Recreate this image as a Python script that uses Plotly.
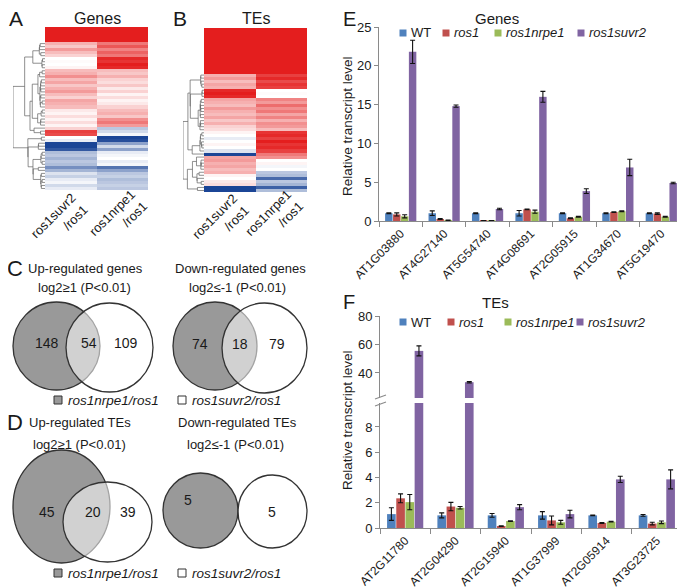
import numpy as np
import plotly.graph_objects as go

W, H = 685, 588
OFF = 8  # default body margin of the page holding the figure
FONT = "Arial, Liberation Sans, sans-serif"

# ---------------- data ----------------
GENOTYPES = ["WT", "ros1", "ros1nrpe1", "ros1suvr2"]
BAR_COLORS = ["#4F81BD", "#C0504D", "#9BBB59", "#8064A2"]

GENE_LOCI = ["AT1G03880", "AT4G27140", "AT5G54740", "AT4G08691", "AT2G05915", "AT1G34670", "AT5G19470"]
GENE_WT = [1.0, 1.0, 1.0, 1.0, 1.0, 1.0, 1.0]
GENE_WT_ERR = [0.05, 0.3, 0.05, 0.35, 0.05, 0.05, 0.05]
GENE_ROS1 = [0.85, 0.25, 0.05, 1.5, 0.35, 1.15, 0.95]
GENE_ROS1_ERR = [0.2, 0.05, 0.02, 0.05, 0.05, 0.05, 0.1]
GENE_NRPE1 = [0.6, 0.1, 0.05, 1.2, 0.55, 1.25, 0.55]
GENE_NRPE1_ERR = [0.2, 0.02, 0.02, 0.2, 0.05, 0.05, 0.05]
GENE_SUVR2 = [21.8, 14.8, 1.55, 16.0, 3.85, 6.9, 4.9]
GENE_SUVR2_ERR = [1.5, 0.15, 0.1, 0.7, 0.3, 1.05, 0.1]

TE_LOCI = ["AT2G11780", "AT2G04290", "AT2G15940", "AT1G37999", "AT2G05914", "AT3G23725"]
TE_WT = [1.1, 1.0, 1.0, 1.0, 1.0, 1.0]
TE_WT_ERR = [0.5, 0.2, 0.15, 0.3, 0.03, 0.07]
TE_ROS1 = [2.35, 1.7, 0.15, 0.6, 0.4, 0.35]
TE_ROS1_ERR = [0.35, 0.33, 0.03, 0.35, 0.03, 0.1]
TE_NRPE1 = [2.05, 1.6, 0.55, 0.45, 0.5, 0.45]
TE_NRPE1_ERR = [0.6, 0.1, 0.03, 0.15, 0.03, 0.1]
TE_SUVR2 = [55.5, 33.5, 1.65, 1.1, 3.85, 3.85]
TE_SUVR2_ERR = [3.5, 0.5, 0.2, 0.3, 0.25, 0.75]

HEAT_COLUMNS = ["ros1suvr2<br>/ros1", "ros1nrpe1<br>/ros1"]
# log2 ratio (scaled -1..1), rows top to bottom
HEAT_GENES_SUVR2 = [1.0, 1.0, 1.0, 1.0, 1.0,
                    0.35, 0.25, 0.45, 0.3, 0.2,
                    0.0, 0.02, 0.0, 0.05,
                    0.3, 0.35, 0.5, 0.3,
                    0.4, 0.25, 0.35, 0.45, 0.3, 0.2, 0.4, 0.35, 0.3,
                    0.1, 0.05, 0.15,
                    0.05, 0.15, 0.05, 0.2,
                    0.85, 0.8, 0.0, -0.1, -1.0, -1.0, -0.9,
                    -0.35, -0.3, -0.4, -0.3, -0.35,
                    -0.6, -0.4,
                    -0.15, -0.25, -0.1, -0.05, -0.2, -0.1]
HEAT_GENES_NRPE1 = [1.0, 1.0, 1.0, 1.0, 1.0,
                    0.6, 0.75, 0.55, 0.7, 0.6,
                    0.95, 0.9, 1.0, 0.95,
                    0.3, 0.25, 0.35, 0.2,
                    0.15, 0.25, 0.1, 0.2, 0.05, 0.15, 0.05, 0.1, 0.2,
                    0.3, 0.35, 0.25,
                    0.5, 0.6, 0.45, -0.3,
                    -0.2, -0.05, -1.0, -0.95, -0.5, -0.2, -0.5,
                    -0.1, -0.05, 0.0, -0.1, -0.05,
                    -0.75, -0.5,
                    -0.3, -0.25, -0.35, -0.3, -0.25, -0.3]
HEAT_TES_SUVR2 = [1.0] * 15 + [0.35, 0.45, 0.3, 0.4, 0.35,
                               0.95, 1.0, 0.95,
                               0.4, 0.35, 0.3, 0.45, 0.35, 0.3, 0.4, 0.25, 0.35, 0.2, 0.15,
                               0.05, 0.0, -0.1, 0.0, 0.05, 0.0, -0.15,
                               -1.0, 0.4,
                               0.45, 0.35, 0.4, 0.3, 0.35,
                               0.05, 0.0, 0.1, 0.15,
                               -1.0, -1.0]
HEAT_TES_NRPE1 = [1.0] * 15 + [0.85, 0.95, 0.8, 0.9, 0.85,
                               0.0, 0.02, 0.0,
                               0.55, 0.45, 0.65, 0.5, 0.6, 0.4, 0.55, 0.35, 0.5, 0.45, 0.3,
                               0.9, 0.95, 0.85, 1.0, 0.9, 0.95, 0.85,
                               0.6, 0.5,
                               0.0, 0.05, -0.05, 0.0, -0.3,
                               -0.35, -0.8, -0.3, -0.4,
                               -0.85, -0.35]
DENDRO_START_GENES = 5
DENDRO_START_TES = 15

VENN_UP_GENES = [148, 54, 109]
VENN_DOWN_GENES = [74, 18, 79]
VENN_UP_TES = [45, 20, 39]
VENN_DOWN_TES = [5, 5]
VENN_LEGEND = ["ros1nrpe1/ros1", "ros1suvr2/ros1"]


# ---------------- helpers (screen pixel -> paper fraction) ----------------
def px(x):
    return (x - OFF) / W


def py(y):
    return 1 - (y - OFF) / H


def dendrogram_segments(rows, start):
    """Order-preserving (adjacent) Ward agglomeration; returns line coords."""
    cl = [dict(n=1, m=np.array(v, float), y=float(start + i), h=0.0) for i, v in enumerate(rows)]
    xs, ys = [], []
    while len(cl) > 1:
        best = None
        for k in range(len(cl) - 1):
            a, b = cl[k], cl[k + 1]
            d = np.sqrt(2 * a["n"] * b["n"] / (a["n"] + b["n"])) * np.linalg.norm(a["m"] - b["m"])
            if best is None or d < best[0]:
                best = (d, k)
        d, k = best
        a, b = cl[k], cl[k + 1]
        h = max(d ** 0.6, a["h"], b["h"]) + 0.02
        xs += [a["h"], h, h, b["h"], None]
        ys += [a["y"], a["y"], b["y"], b["y"], None]
        n = a["n"] + b["n"]
        cl[k:k + 2] = [dict(n=n, m=(a["n"] * a["m"] + b["n"] * b["m"]) / n, y=(a["y"] + b["y"]) / 2, h=h)]
    return xs, ys, cl[0]["h"]


fig = go.Figure()
annotations = []
shapes = []


def ann(x, y, text, size=13, **kw):
    d = dict(x=px(x), y=py(y), xref="paper", yref="paper", text=text, showarrow=False,
             font=dict(family=FONT, size=size, color=kw.pop("color", "#1a1a1a")),
             xanchor=kw.pop("xanchor", "center"), yanchor=kw.pop("yanchor", "middle"))
    d.update(kw)
    annotations.append(d)


HEAT_SCALE = [[0.0, "#1B4596"], [0.5, "#FFFFFF"], [1.0, "#E41E1E"]]

# ---------------- heatmaps + dendrograms ----------------
heat_specs = [
    ("x", "y", "x2", "y2", HEAT_GENES_SUVR2, HEAT_GENES_NRPE1, DENDRO_START_GENES, (45, 148), (13, 45), (27, 190)),
    ("x3", "y3", "x4", "y4", HEAT_TES_SUVR2, HEAT_TES_NRPE1, DENDRO_START_TES, (204, 307), (183, 204), (28, 192)),
]
layout_axes = {}
for i, (hx, hy, dx, dy, c1, c2, start, hxr, dxr, yr) in enumerate(heat_specs):
    n = len(c1)
    z = [[a, b] for a, b in zip(c1, c2)]
    fig.add_trace(go.Heatmap(z=z, x=[0, 1], y=list(range(n)), zmin=-1, zmax=1, colorscale=HEAT_SCALE,
                             showscale=False, xaxis=hx, yaxis=hy, hoverinfo="skip"))
    rows = z[start:]
    xs, ys, hmax = dendrogram_segments(rows, start)
    fig.add_trace(go.Scatter(x=xs, y=ys, mode="lines", line=dict(color="#606060", width=0.7),
                             xaxis=dx, yaxis=dy, showlegend=False, hoverinfo="skip"))
    ydom = [py(yr[1]), py(yr[0])]
    yrange = [n - 0.5, -0.5]
    hxn = "xaxis" + hx[1:]
    hyn = "yaxis" + hy[1:]
    dxn = "xaxis" + dx[1:]
    dyn = "yaxis" + dy[1:]
    layout_axes[hxn] = dict(domain=[px(hxr[0]), px(hxr[1])], range=[-0.5, 1.5], visible=False, anchor=hy, automargin=False)
    layout_axes[hyn] = dict(domain=ydom, range=yrange, visible=False, anchor=hx, automargin=False)
    layout_axes[dxn] = dict(domain=[px(dxr[0]), px(dxr[1])], range=[hmax, 0], visible=False, anchor=dy, automargin=False)
    layout_axes[dyn] = dict(domain=ydom, range=yrange, visible=False, anchor=dx, automargin=False)

# titles and column labels of heatmaps
ann(16, 19, "A", size=21)
ann(97, 18, "Genes", size=16)
ann(180, 19, "B", size=21)
ann(256, 18, "TEs", size=16)
for (cx, cy), lab in zip([(59, 222), (118, 219)], HEAT_COLUMNS):
    ann(cx, cy, lab, size=13, textangle=-45, align="right")
for (cx, cy), lab in zip([(221, 222), (274, 219)], HEAT_COLUMNS):
    ann(cx, cy, lab, size=13, textangle=-45, align="right")

# ---------------- Venn diagrams ----------------
GRAY = "#999999"
EDGE = "#333333"


def ellipse(box, fill):
    x0, y0, x1, y1 = box
    shapes.append(dict(type="circle", xref="paper", yref="paper", x0=px(x0), x1=px(x1),
                       y0=py(y1), y1=py(y0), fillcolor=fill, line=dict(color=EDGE, width=1.3),
                       layer="above"))


venns = [
    ((13, 302, 100, 390), (66, 303, 153, 392), VENN_UP_GENES, [(47, 343), (89, 343), (126, 343)]),
    ((173, 302, 257, 390), (222, 303, 307, 393), VENN_DOWN_GENES, [(200, 344), (240, 344), (277, 344)]),
    ((13, 450, 110, 563), (63, 482, 152, 562), VENN_UP_TES, [(47, 512), (93, 512), (128, 512)]),
    ((163, 473, 238, 548), (238, 475, 307, 548), VENN_DOWN_TES, [(188, 500), (272, 512)]),
]
for gbox, wbox, nums, pos in venns:
    ellipse(gbox, GRAY)
    ellipse(wbox, "rgba(255,255,255,0.55)")
    for v, (x, y) in zip(nums, pos):
        ann(x, y, str(v), size=14)

ann(15, 268, "C", size=22)
ann(85, 268, "Up-regulated genes", size=13)
ann(84, 287, "log2≥1 (P&lt;0.01)", size=13)
ann(240, 268, "Down-regulated genes", size=13)
ann(237, 287, "log2≤-1 (P&lt;0.01)", size=13)
ann(15, 423, "D", size=22)
ann(80, 423, "Up-regulated TEs", size=13)
ann(79, 444, "log2≥1 (P&lt;0.01)", size=13)
ann(237, 423, "Down-regulated TEs", size=13)
ann(235, 444, "log2≤-1 (P&lt;0.01)", size=13)

for ly in (400, 573):
    for sx, fill, lab in zip((58, 182), (GRAY, "#FFFFFF"), VENN_LEGEND):
        shapes.append(dict(type="rect", xref="paper", yref="paper", x0=px(sx - 4), x1=px(sx + 4),
                           y0=py(ly + 4), y1=py(ly - 4), fillcolor=fill, line=dict(color=EDGE, width=1)))
        ann(sx + 8, ly, "<i>" + lab + "</i>", size=13.5, xanchor="left")

# ---------------- bar charts ----------------
gene_vals = [GENE_WT, GENE_ROS1, GENE_NRPE1, GENE_SUVR2]
gene_errs = [GENE_WT_ERR, GENE_ROS1_ERR, GENE_NRPE1_ERR, GENE_SUVR2_ERR]
te_vals = [TE_WT, TE_ROS1, TE_NRPE1, TE_SUVR2]
te_errs = [TE_WT_ERR, TE_ROS1_ERR, TE_NRPE1_ERR, TE_SUVR2_ERR]


def add_bars(cats, vals, errs, xa, ya):
    for g, c, v, e in zip(GENOTYPES, BAR_COLORS, vals, errs):
        fig.add_trace(go.Bar(x=cats, y=v, name=g, marker=dict(color=c, line=dict(width=0)),
                             error_y=dict(type="data", array=e, color="#111111", thickness=1.1, width=2.5),
                             xaxis=xa, yaxis=ya, showlegend=False, offsetgroup=g))


add_bars(GENE_LOCI, gene_vals, gene_errs, "x5", "y5")
add_bars(TE_LOCI, te_vals, te_errs, "x6", "y6")
add_bars(TE_LOCI, te_vals, te_errs, "x7", "y7")

AX = "#8a8a8a"
tickfont = dict(family=FONT, size=12, color="#1a1a1a")
xcommon = dict(showline=True, linecolor=AX, linewidth=1, ticks="outside", tickcolor=AX, ticklen=5,
               tickson="boundaries", tickangle=-45, tickfont=tickfont, showgrid=False, zeroline=False,
               automargin=False)
ycommon = dict(showline=True, linecolor=AX, linewidth=1, ticks="outside", tickcolor=AX, ticklen=4,
               tickfont=dict(family=FONT, size=13, color="#1a1a1a"), showgrid=False, zeroline=False,
               automargin=False)

layout_axes["xaxis5"] = dict(domain=[px(379), px(683)], anchor="y5", **xcommon)
layout_axes["yaxis5"] = dict(domain=[py(221), py(27)], anchor="x5", range=[0, 25], tickvals=[0, 5, 10, 15, 20, 25], **ycommon)
layout_axes["xaxis6"] = dict(domain=[px(380), px(682)], anchor="y6", **xcommon)
layout_axes["yaxis6"] = dict(domain=[py(528), py(403)], anchor="x6", range=[0, 9.9], tickvals=[0, 2, 4, 6, 8], **ycommon)
layout_axes["xaxis7"] = dict(domain=[px(380), px(682)], anchor="y7", matches="x6", visible=False, automargin=False)
layout_axes["yaxis7"] = dict(domain=[py(398), py(316)], anchor="x7", range=[22.4, 80], tickvals=[40, 60, 80], **ycommon)

# break marks on the TE y-axis
for yb in (397, 404):
    shapes.append(dict(type="line", xref="paper", yref="paper", x0=px(375), x1=px(386),
                       y0=py(yb + 2), y1=py(yb - 2), line=dict(color=AX, width=1.2)))

ann(349, 19, "E", size=20)
ann(497, 18, "Genes", size=15)
ann(349, 302, "F", size=20)
ann(495, 302, "TEs", size=15)
ann(347, 126, "Relative transcript level", size=13.5, textangle=-90)
ann(347, 420, "Relative transcript level", size=13.5, textangle=-90)

# manual compact legends
for ly, xs in ((33, (403, 446, 498, 581)), (322, (403, 451, 508, 580))):
    for sx, c, g in zip(xs, BAR_COLORS, GENOTYPES):
        shapes.append(dict(type="rect", xref="paper", yref="paper", x0=px(sx - 3.5), x1=px(sx + 3.5),
                           y0=py(ly + 3.5), y1=py(ly - 3.5), fillcolor=c, line=dict(width=0)))
        lab = g if g == "WT" else "<i>" + g + "</i>"
        ann(sx + 6, ly, lab, size=13, xanchor="left")

fig.update_layout(template="none", width=W, height=H, margin=dict(l=0, r=0, t=0, b=0, pad=0),
                  paper_bgcolor="white", plot_bgcolor="rgba(0,0,0,0)", barmode="group", bargap=0.27,
                  bargroupgap=0.06, showlegend=False, annotations=annotations, shapes=shapes,
                  font=dict(family=FONT), **layout_axes)

fig.write_html("out.html")
